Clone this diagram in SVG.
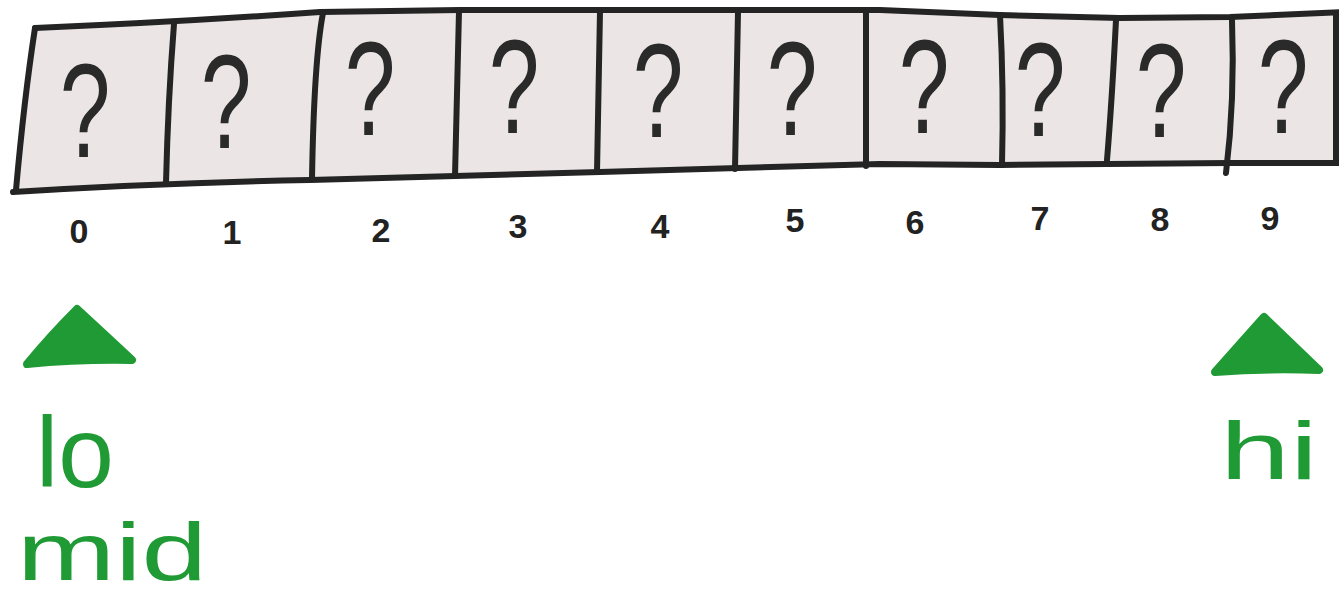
<svg xmlns="http://www.w3.org/2000/svg" width="1339" height="601" viewBox="0 0 1339 601">
<style>
.ink{fill:none;stroke:#242424;stroke-width:6;stroke-linecap:round;stroke-linejoin:round}
.q{font-family:"Liberation Sans",Arial,sans-serif;font-size:134px;fill:#2a2a2a;text-anchor:middle}
.idx{font-family:"Liberation Sans",Arial,sans-serif;font-size:34px;font-weight:bold;fill:#222;text-anchor:middle}
.ptr{fill:#1f9a35;stroke:#1f9a35;stroke-width:8;stroke-linejoin:round}
.lbl{font-family:"Liberation Sans",Arial,sans-serif;fill:#1f9a35}
</style>
<rect width="1339" height="601" fill="#ffffff"/>
<g id="array">
<path d="M35,28 Q180,22 320,12 L460,10 L880,10 L1000,15 L1120,18 L1230,17 L1339,12 L1339,163 L1230,163 L1000,165 L880,164 L600,172 L310,180 Q160,183 15,192 Z" fill="#ebe5e5"/>
<path class="ink" d="M35,28 Q180,22 320,12 L460,10 L880,10 L1000,15 L1120,18 L1230,17 L1345,12"/>
<path class="ink" d="M13,192 Q160,183 310,180 L600,172 L880,164 L1000,165 L1230,163 L1345,163"/>
<path class="ink" d="M35,28 Q24,100 16,190"/>
<path class="ink" d="M1336,14 L1336,163"/>
</g>
<g id="cell-0"><text class="q" transform="translate(85,157) scale(0.68,1)">?</text><text class="idx" x="79" y="243">0</text></g>
<g id="cell-1"><path class="ink" d="M174,24 Q168,100 166,183"/><text class="q" transform="translate(226,148) scale(0.68,1)">?</text><text class="idx" x="232" y="244">1</text></g>
<g id="cell-2"><path class="ink" d="M323,13 Q314,60 312,179"/><text class="q" transform="translate(370,135) scale(0.68,1)">?</text><text class="idx" x="381" y="242">2</text></g>
<g id="cell-3"><path class="ink" d="M459,11 L455,176"/><text class="q" transform="translate(514,133) scale(0.68,1)">?</text><text class="idx" x="518" y="238">3</text></g>
<g id="cell-4"><path class="ink" d="M600,11 L597,172"/><text class="q" transform="translate(658,137) scale(0.68,1)">?</text><text class="idx" x="660" y="238">4</text></g>
<g id="cell-5"><path class="ink" d="M738,12 L735,169"/><text class="q" transform="translate(792,135) scale(0.68,1)">?</text><text class="idx" x="795" y="232">5</text></g>
<g id="cell-6"><path class="ink" d="M866,12 L866,166"/><text class="q" transform="translate(924,133) scale(0.68,1)">?</text><text class="idx" x="915" y="234">6</text></g>
<g id="cell-7"><path class="ink" d="M1000,15 Q1004,90 1002,165"/><text class="q" transform="translate(1040,136) scale(0.68,1)">?</text><text class="idx" x="1040" y="230">7</text></g>
<g id="cell-8"><path class="ink" d="M1116,20 Q1112,100 1107,160"/><text class="q" transform="translate(1161,137) scale(0.68,1)">?</text><text class="idx" x="1160" y="231">8</text></g>
<g id="cell-9"><path class="ink" d="M1232,20 Q1235,100 1226,173"/><text class="q" transform="translate(1283,133) scale(0.68,1)">?</text><text class="idx" x="1270" y="230">9</text></g>
<g id="ptr-lo">
<path class="ptr" d="M77,309 Q102,332 132,360 Q80,359 27,364 Q50,336 77,309 Z"/>
<text class="lbl" x="36" y="487" font-size="100">lo</text>
<text class="lbl" x="17" y="580" font-size="82" textLength="190" lengthAdjust="spacingAndGlyphs">mid</text>
</g>
<g id="ptr-hi">
<path class="ptr" d="M1264,317 Q1290,342 1319,370 Q1266,368 1215,372 Q1238,346 1264,317 Z"/>
<text class="lbl" x="1220" y="479" font-size="82" textLength="98" lengthAdjust="spacingAndGlyphs">hi</text>
</g>
</svg>
